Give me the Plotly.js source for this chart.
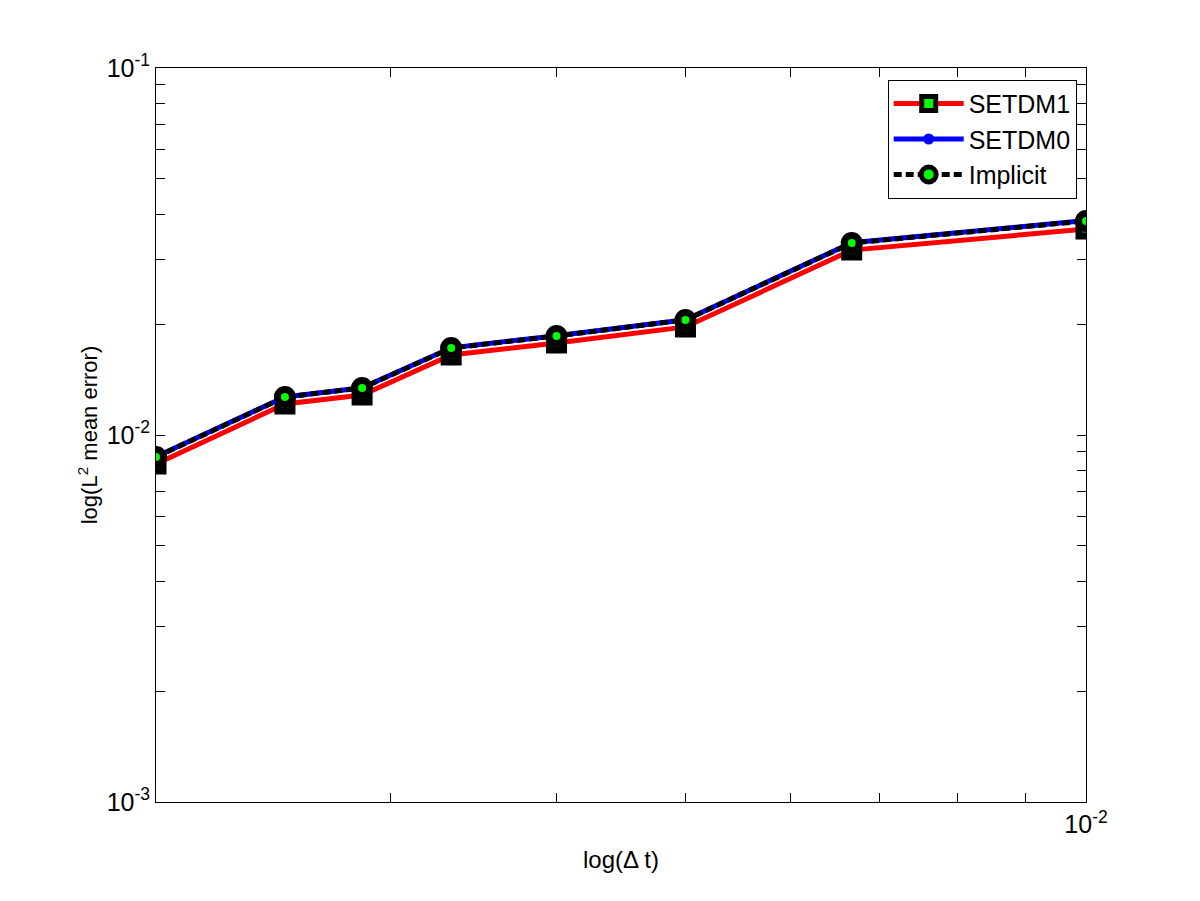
<!DOCTYPE html>
<html>
<head>
<meta charset="utf-8">
<script src="https://cdn.plot.ly/plotly-3.0.1.min.js"></script>
<style>html,body{margin:0;padding:0;background:#fff;}#chart{width:1200px;height:901px;}</style>
</head>
<body>
<div id="chart"></div>
<script>
// time steps (Delta t)
const dt = [1/500, 1/400, 1/350, 1/300, 1/250, 1/200, 1/150, 1/100];
// L2 mean errors
const setdm1 = [0.00834, 0.01215, 0.01285, 0.01652, 0.01782, 0.0197, 0.0319, 0.0364];
const setdm0 = [0.00873, 0.0127, 0.01345, 0.01728, 0.01865, 0.0206, 0.0334, 0.0384];
const implicit = [0.00871, 0.01269, 0.01343, 0.01726, 0.01862, 0.02058, 0.03336, 0.0383];

// labelled (decade) ticks and unlabelled minor ticks
const xTickVals = [0.01];
const xTickText = ['10<sup>-2</sup>'];
const xMinorVals = [0.003, 0.004, 0.005, 0.006, 0.007, 0.008, 0.009];
const yTickVals = [0.001, 0.01, 0.1];
const yTickText = ['10<sup>-3</sup>', '10<sup>-2</sup>', '10<sup>-1</sup>'];
const yMinorVals = [0.002,0.003,0.004,0.005,0.006,0.007,0.008,0.009,
                    0.02,0.03,0.04,0.05,0.06,0.07,0.08,0.09];

const traces = [
  {x: dt, y: setdm1, name: 'SETDM1', mode: 'lines+markers', type: 'scatter',
   line: {color: '#ff0000', width: 5},
   marker: {symbol: 'square', size: 14, color: '#00ff00', line: {color: '#000000', width: 7}}},
  {x: dt, y: setdm0, name: 'SETDM0', mode: 'lines+markers', type: 'scatter',
   line: {color: '#0000ff', width: 5},
   marker: {symbol: 'circle', size: 11, color: '#0000ff'}},
  {x: dt, y: implicit, name: 'Implicit', mode: 'lines+markers', type: 'scatter',
   line: {color: '#000000', width: 5, dash: '8px,4px'},
   marker: {symbol: 'circle', size: 15, color: '#00ff00', line: {color: '#000000', width: 7}}}
];

const tickFont = {size: 25, family: 'Liberation Sans, Arial, sans-serif', color: '#000000'};

const layout = {
  width: 1200, height: 901,
  paper_bgcolor: '#ffffff', plot_bgcolor: '#ffffff',
  margin: {l: 156, r: 114, t: 68, b: 99, pad: 0},
  font: {family: 'Liberation Sans, Arial, sans-serif', color: '#000000', size: 21},
  showlegend: true,
  legend: {x: 0.990, y: 0.984, xanchor: 'right', yanchor: 'top',
           bgcolor: '#ffffff', bordercolor: '#000000', borderwidth: 1,
           tracegroupgap: 0, itemwidth: 70,
           font: {size: 25, family: 'Liberation Sans, Arial, sans-serif'}},
  xaxis: {
    type: 'log', range: [Math.log10(0.002), -2],
    tickmode: 'array', tickvals: xTickVals, ticktext: xTickText, tickfont: tickFont,
    ticks: 'inside', ticklen: 9, tickcolor: '#000', tickwidth: 1,
    showline: true, linecolor: '#000', linewidth: 1, mirror: 'ticks',
    showgrid: false, zeroline: false,
    minor: {tickmode: 'array', tickvals: xMinorVals, ticks: 'inside', ticklen: 9, tickcolor: '#000', tickwidth: 1, showgrid: false},
    title: {text: 'log(Δ t)', font: {size: 24}, standoff: 14}},
  yaxis: {
    type: 'log', range: [-3, -1],
    tickmode: 'array', tickvals: yTickVals, ticktext: yTickText, tickfont: tickFont,
    ticks: 'inside', ticklen: 9, tickcolor: '#000', tickwidth: 1,
    showline: true, linecolor: '#000', linewidth: 1, mirror: 'ticks',
    showgrid: false, zeroline: false,
    minor: {tickmode: 'array', tickvals: yMinorVals, ticks: 'inside', ticklen: 9, tickcolor: '#000', tickwidth: 1, showgrid: false},
    title: {text: 'log(L<sup>2</sup> mean error)', font: {size: 22}, standoff: 2}}
};

Plotly.newPlot('chart', traces, layout, {displayModeBar: false, staticPlot: true});
</script>
</body>
</html>
